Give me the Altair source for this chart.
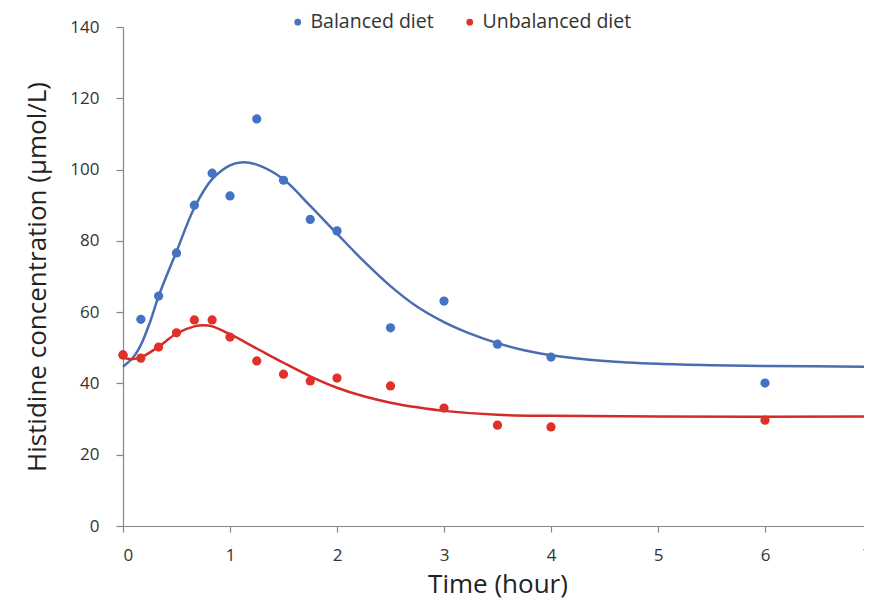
import altair as alt
import pandas as pd

# Measured samples (hours)
sample_times = [0, 0.167, 0.333, 0.5, 0.667, 0.833, 1.0, 1.25, 1.5, 1.75, 2.0, 2.5, 3.0, 3.5, 4.0, 6.0]
balanced_obs = [48, 58, 64.5, 76.6, 90, 99, 92.6, 114.2, 97, 86, 82.8, 55.6, 63.1, 51, 47.4, 40.1]
unbalanced_obs = [48, 47.1, 50.2, 54.2, 57.8, 57.8, 53, 46.3, 42.6, 40.7, 41.5, 39.3, 33.1, 28.3, 27.8, 29.7]

# Fitted curves
balanced_fit_t = [0, 0.1, 0.167, 0.25, 0.333, 0.5, 0.667, 0.833, 1.0, 1.1, 1.25, 1.5, 1.75, 2.0, 2.25,
                  2.5, 2.75, 3.0, 3.25, 3.5, 3.75, 4.0, 4.5, 5.0, 5.5, 6.0, 7.0]
balanced_fit_y = [44.7, 47.5, 50.8, 57, 64.5, 77, 89.3, 97.3, 101.2, 102, 101.4, 97.3, 89.8, 82, 74.3,
                  67.3, 61.5, 57.2, 53.9, 51.3, 49.3, 47.9, 46.3, 45.5, 45.1, 44.9, 44.7]
unbalanced_fit_t = [0, 0.08, 0.167, 0.333, 0.5, 0.667, 0.75, 0.833, 1.0, 1.25, 1.5, 1.75, 2.0, 2.25,
                    2.5, 2.75, 3.0, 3.5, 4.0, 5.0, 7.0]
unbalanced_fit_y = [47.2, 46.8, 47.3, 50.3, 54.0, 56.0, 56.3, 56.0, 53.8, 49.8, 45.8, 42.0, 38.8, 36.4,
                    34.6, 33.3, 32.3, 31.2, 30.9, 30.7, 30.7]

series_names = ["Balanced diet", "Unbalanced diet"]
series_colors = ["#4472C4", "#E0302A"]
line_colors = ["#4A6DB0", "#D42B27"]

obs = pd.DataFrame(
    [{"t": t, "v": v, "diet": series_names[0]} for t, v in zip(sample_times, balanced_obs)]
    + [{"t": t, "v": v, "diet": series_names[1]} for t, v in zip(sample_times, unbalanced_obs)]
)
fit_bal = pd.DataFrame({"t": balanced_fit_t, "v": balanced_fit_y})
fit_unb = pd.DataFrame({"t": unbalanced_fit_t, "v": unbalanced_fit_y})

FONT = "Open Sans"

x = alt.X("t:Q", scale=alt.Scale(domain=[0, 7], nice=False),
          axis=alt.Axis(title="Time (hour)", values=list(range(0, 8)), grid=False,
                        tickSize=6, labelPadding=15, titlePadding=8))
y = alt.Y("v:Q", scale=alt.Scale(domain=[0, 140], nice=False),
          axis=alt.Axis(title="Histidine concentration (µmol/L)", values=list(range(0, 141, 20)),
                        grid=False, tickSize=7, labelPadding=17, titlePadding=19))

line_bal = alt.Chart(fit_bal).mark_line(strokeWidth=2.5, interpolate="catmull-rom",
                                        color=line_colors[0]).encode(x=x, y=y)
line_unb = alt.Chart(fit_unb).mark_line(strokeWidth=2.5, interpolate="catmull-rom",
                                        color=line_colors[1]).encode(x=x, y=y)

points = alt.Chart(obs).mark_circle(size=85, opacity=1).encode(
    x=x, y=y,
    color=alt.Color("diet:N", scale=alt.Scale(domain=series_names, range=series_colors),
                    legend=alt.Legend(title=None, orient="none", direction="horizontal",
                                      legendX=165, legendY=-15, symbolType="circle", symbolSize=45,
                                      labelFontSize=19.5, labelFont=FONT, labelColor="#333333",
                                      columnPadding=26, labelOffset=3, padding=0)),
    order=alt.Order("diet:N", sort="ascending"),
)

chart = alt.layer(line_bal, line_unb, points).properties(
    width=749, height=499,
    autosize=alt.AutoSizeParams(type="none"),
    padding={"left": 115, "top": 19, "right": -8, "bottom": 76},
).configure_view(stroke=None).configure_axis(
    domainColor="#868686", tickColor="#868686", domainWidth=1.2, tickWidth=1.2,
    labelFont=FONT, labelFontSize=17, labelColor="#333333",
    titleFont=FONT, titleFontSize=26, titleFontWeight="normal", titleColor="#222222",
)

chart.save("out.html", embed_options={"renderer": "svg", "actions": False})
